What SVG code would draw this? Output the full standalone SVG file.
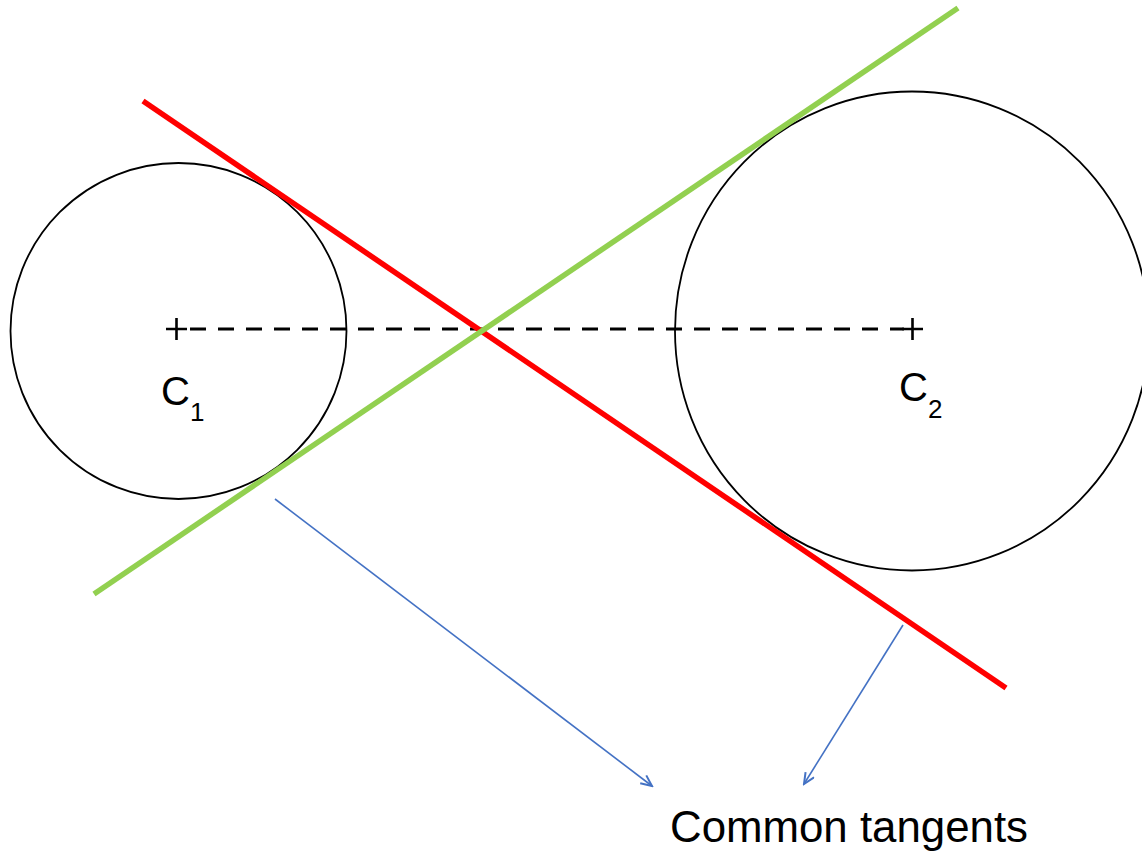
<svg xmlns="http://www.w3.org/2000/svg" width="1142" height="852" viewBox="0 0 1142 852">
<style>
.circ{fill:none;stroke:#000;stroke-width:1.8}
.tan{stroke-width:5.5;fill:none}
.dash{stroke:#000;stroke-width:3;stroke-dasharray:16 12;fill:none}
.plus{stroke:#000;stroke-width:2.6;fill:none}
.lbl{font-family:"Liberation Sans",Arial,sans-serif;fill:#000}
.sub{font-size:26px}
.ptr{stroke:#4472C4;stroke-width:1.6;fill:none;marker-end:url(#ah)}
</style>
<defs>
<marker id="ah" markerWidth="14" markerHeight="12" refX="12" refY="6" orient="auto" markerUnits="userSpaceOnUse">
<path d="M1,1 L12,6 L1,11" fill="none" stroke="#4472C4" stroke-width="2"/>
</marker>
</defs>
<rect width="1142" height="852" fill="#fff"/>
<g id="circle1">
<circle class="circ" cx="178.5" cy="331" r="168"/>
<path class="plus" d="M166,329 H187 M176.5,318 V340"/>
<text class="lbl" x="161" y="405" font-size="40">C<tspan class="sub" dy="16">1</tspan></text>
</g>
<g id="circle2">
<ellipse class="circ" cx="912" cy="331" rx="237" ry="239.5"/>
<path class="plus" d="M902,329 H923 M912.5,318 V340"/>
<text class="lbl" x="899" y="401" font-size="40">C<tspan class="sub" dy="17">2</tspan></text>
</g>
<g id="connectors">
<line class="dash" x1="190" y1="329" x2="904" y2="329"/>
<line class="tan" stroke="#FF0000" x1="143" y1="101" x2="1006" y2="688"/>
<line class="tan" stroke="#92D050" x1="94" y1="594" x2="958" y2="8"/>
<line class="ptr" x1="275" y1="499" x2="652" y2="786"/>
<line class="ptr" x1="903" y1="625" x2="804" y2="784"/>
</g>
<g id="caption">
<text class="lbl" x="670" y="842" font-size="44" textLength="358" lengthAdjust="spacingAndGlyphs">Common tangents</text>
</g>
</svg>
